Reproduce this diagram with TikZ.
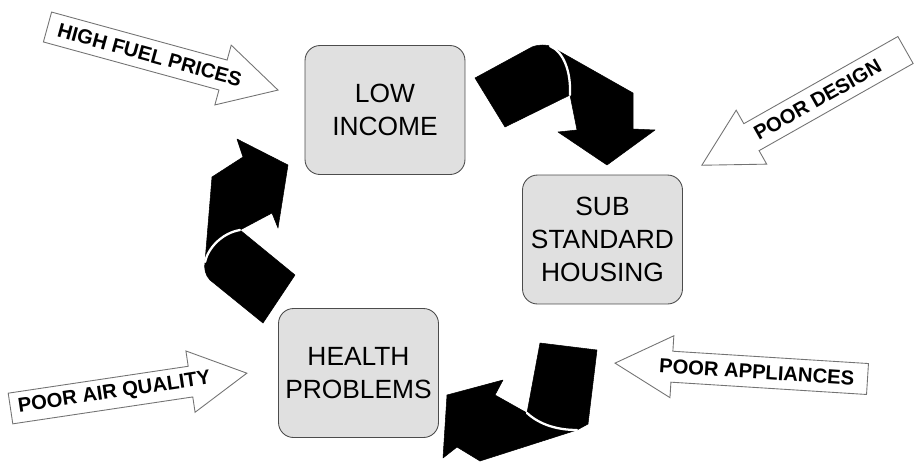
\documentclass[tikz,border=0pt]{standalone}
\usepackage{fontspec}
\setmainfont{Liberation Sans}
\usetikzlibrary{calc}

\tikzset{
  causebox/.style={draw=black!70, line width=0.5pt, fill=black!12, rounded corners=0.3cm,
    minimum width=3.2cm, minimum height=2.58cm, align=center, font=\fontsize{15}{19}\selectfont},
  sidearrow/.style={draw=black!55, line width=0.5pt, fill=white, line join=miter},
  arrowtext/.style={inner sep=0pt, font=\bfseries\fontsize{11.5}{12}\selectfont},
  flowarrow/.style={fill=black, draw=black, line width=0.3pt, line join=round},
  foldline/.style={draw=white, line width=1.3pt, line cap=round},
}

% #1,#2 tail centre, #3 angle, #4 length, #5 text position, #6 text angle, #7 name, #8 text
\newcommand{\sidecause}[8]{%
  \begin{scope}[shift={(#1,#2)}, rotate=#3]
    \draw[sidearrow] (0,-15.5) -- ({#4-57},-15.5) -- ({#4-57},-31) -- (#4,0)
      -- ({#4-57},31) -- ({#4-57},15.5) -- (0,15.5) -- cycle;
    \node[arrowtext, rotate=#6] (#7) at (#5,0) {#8};
  \end{scope}
}

\begin{document}
\begin{tikzpicture}[x=0.02cm, y=-0.02cm]
  \useasboundingbox (0,0) rectangle (914,461);

  % the three boxes of the cycle
  \node[causebox] (income) at (385,110) {LOW\\INCOME};
  \node[causebox] (housing) at (602.5,239.5) {SUB\\STANDARD\\HOUSING};
  \node[causebox] (health) at (358.5,373) {HEALTH\\PROBLEMS};

  % low income -> housing
  \fill[flowarrow] (475,78) -- (532,47) .. controls (540,44) and (546,45) .. (550,46)
    .. controls (564,52) and (571,72) .. (570,95) -- (505,127) -- cycle;
  \fill[flowarrow] (550,46) -- (633,93) -- (633,129) -- (655,130) -- (607,165) -- (558,132)
    -- (577,130) -- (570,95) .. controls (571,72) and (564,52) .. (550,46) -- cycle;
  \draw[foldline] (550,46) .. controls (564,52) and (571,72) .. (570,95);

  % housing -> health
  \fill[flowarrow] (540,343) -- (597,350) -- (588,424) -- (577,430)
    .. controls (558,430) and (540,425) .. (527,413) -- cycle;
  \fill[flowarrow] (527,413) .. controls (540,425) and (558,430) .. (577,430) -- (480,461)
    -- (457,447) -- (443,458) -- (447,395) -- (503,380) -- (495,395) -- cycle;
  \draw[foldline] (527,413) .. controls (540,425) and (558,430) .. (577,430);

  % health -> low income
  \fill[flowarrow] (240,230) -- (295,275) -- (263,323) -- (210,280)
    .. controls (205,275) and (204,268) .. (205,262)
    .. controls (208,248) and (222,233) .. (240,230) -- cycle;
  \fill[flowarrow] (205,262) -- (212,177) -- (243,157) -- (237,139) -- (288,165) -- (278,228)
    -- (272,213) -- (240,230) .. controls (222,233) and (208,248) .. (205,262) -- cycle;
  \draw[foldline] (205,262) .. controls (208,248) and (222,233) .. (240,230);

  % outside causes
  \sidecause{47.5}{27}{-15.3}{239}{106}{-15.3}{fuel}{HIGH FUEL PRICES}
  \sidecause{905.5}{50}{-150.5}{234}{101}{29.5}{design}{POOR DESIGN}
  \sidecause{867.5}{379}{176.4}{253}{111}{-3.6}{appliances}{POOR APPLIANCES}
  \sidecause{10.5}{408.5}{8.5}{239}{105}{8.5}{air}{POOR AIR QUALITY}
\end{tikzpicture}
\end{document}
